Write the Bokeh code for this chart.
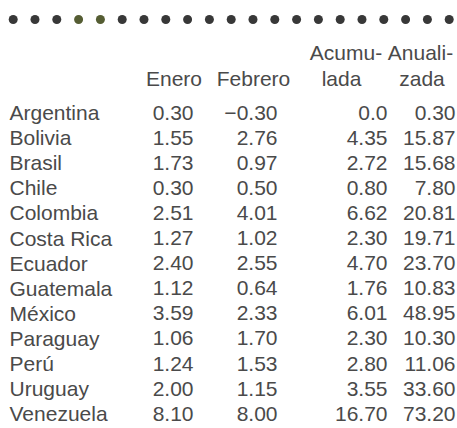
from bokeh.plotting import figure
from bokeh.models import Range1d, ColumnDataSource
from bokeh.core.properties import value
from bokeh.embed import file_html
from bokeh.resources import INLINE

# ---- data (table cells as printed) ----
countries = ["Argentina", "Bolivia", "Brasil", "Chile", "Colombia", "Costa Rica",
             "Ecuador", "Guatemala", "México", "Paraguay", "Perú", "Uruguay", "Venezuela"]
enero = ["0.30", "1.55", "1.73", "0.30", "2.51", "1.27", "2.40", "1.12", "3.59",
         "1.06", "1.24", "2.00", "8.10"]
febrero = ["\u22120.30", "2.76", "0.97", "0.50", "4.01", "1.02", "2.55", "0.64", "2.33",
           "1.70", "1.53", "1.15", "8.00"]
acumulada = ["0.0", "4.35", "2.72", "0.80", "6.62", "2.30", "4.70", "1.76", "6.01",
             "2.30", "2.80", "3.55", "16.70"]
anualizada = ["0.30", "15.87", "15.68", "7.80", "20.81", "19.71", "23.70", "10.83", "48.95",
              "10.30", "11.06", "33.60", "73.20"]
header_top = ["", "", "Acumu-", "Anuali-"]
header_bottom = ["Enero", "Febrero", "lada", "zada"]

# ---- layout / style constants ----
FONT = value("Liberation Sans")
SIZE = "21px"
COLOR = "#4a4a4a"
DY = -8.5                      # baseline correction
ROW0, STEP = 120.5 + DY, 25.1
LABEL_X = 9
COL_RIGHT = [193, 277, 387, 455]
HEAD_TOP_X = [0, 0, 345.5, 420]
HEAD_BOT_X = [173.5, 253, 341, 421.5]
HEAD_TOP_Y, HEAD_BOT_Y = 60 + DY, 86 + DY
N_DOTS, DOT_X0, DOT_STEP, DOT_Y = 21, 12.7, 21.8, 19
HIGHLIGHT = {3, 4}

p = figure(width=457, height=428, x_range=Range1d(0, 457), y_range=Range1d(428, 0),
           output_backend="svg", toolbar_location=None, min_border=0,
           x_axis_type=None, y_axis_type=None)
p.grid.visible = False
p.outline_line_color = None
p.background_fill_color = "white"
p.border_fill_color = "white"

# decorative dotted rule
dot_x = [DOT_X0 + i * DOT_STEP for i in range(N_DOTS)]
dot_c = ["#555d33" if i in HIGHLIGHT else "#383838" for i in range(N_DOTS)]
p.scatter(x=dot_x, y=[DOT_Y] * N_DOTS, size=9, fill_color=dot_c, line_color=None)

# headers
ht = [(x, t) for x, t in zip(HEAD_TOP_X, header_top) if t]
p.text(x=[a for a, _ in ht], y=[HEAD_TOP_Y] * len(ht), text=[b for _, b in ht],
       text_align="center", text_baseline="alphabetic", text_font=FONT,
       text_font_size=SIZE, text_color=COLOR)
p.text(x=HEAD_BOT_X, y=[HEAD_BOT_Y] * len(header_bottom), text=header_bottom,
       text_align="center", text_baseline="alphabetic", text_font=FONT,
       text_font_size=SIZE, text_color=COLOR)

rows_y = [ROW0 + i * STEP for i in range(len(countries))]

# country labels
p.text(x=[LABEL_X] * len(countries), y=rows_y, text=countries,
       text_align="left", text_baseline="alphabetic", text_font=FONT,
       text_font_size=SIZE, text_color=COLOR)

# numeric columns
for xr, col in zip(COL_RIGHT, [enero, febrero, acumulada, anualizada]):
    src = ColumnDataSource(dict(x=[xr] * len(col), y=rows_y, t=col))
    p.text(x="x", y="y", text="t", source=src, text_align="right",
           text_baseline="alphabetic", text_font=FONT, text_font_size=SIZE,
           text_color=COLOR)

open("out.html", "w").write(file_html(p, INLINE))
